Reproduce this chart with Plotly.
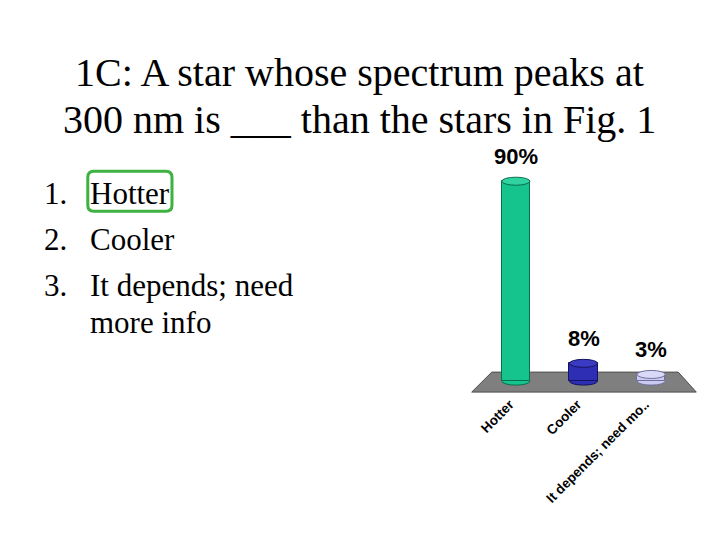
import plotly.graph_objects as go

# ---- data ----
categories = ["Hotter", "Cooler", "It depends; need mo.."]
values = [90, 8, 3]
bar_colors = ["#14C48C", "#2E2EB4", "#C9C9F2"]
edge_colors = ["#0B6E4E", "#14145E", "#6F6F9A"]
cap_colors = ["#2FD39F", "#3A3AC4", "#DADAF8"]
title_lines = ["1C: A star whose spectrum peaks at",
               "300 nm is ___ than the stars in Fig. 1"]
list_numbers = ["1.", "2.", "3.", ""]
list_texts = ["Hotter", "Cooler", "It depends; need", "more info"]

W, H = 720, 540
L, R, T, B = 482.25, 684.75, 158.8, 389.9
Y0, Y1 = -4, 100


def px(x):
    return (x - L) / (R - L)


def py(y):
    return (B - y) / (B - T)


fig = go.Figure()
fig.add_trace(go.Bar(
    x=list(range(len(categories))), y=values, width=0.415,
    marker=dict(color=bar_colors, line=dict(color=edge_colors, width=1)),
    hoverinfo="skip", showlegend=False,
))

shapes = []
# floor (perspective parallelogram)
fx = [492, 678, 696, 472]
fy = [372, 372, 392, 392]
path = "M {} {} L {} {} L {} {} L {} {} Z".format(
    px(fx[0]), py(fy[0]), px(fx[1]), py(fy[1]), px(fx[2]), py(fy[2]), px(fx[3]), py(fy[3]))
shapes.append(dict(type="path", path=path, xref="paper", yref="paper",
                   fillcolor="#7F7F7F", line=dict(color="#505050", width=1), layer="below"))
hw = 0.415 / 2
eh = 1.8
for i, v in enumerate(values):
    # bottom ellipse of the cylinder
    shapes.append(dict(type="circle", xref="x", yref="y", x0=i - hw, x1=i + hw, y0=-eh, y1=eh,
                       fillcolor=bar_colors[i], line=dict(color=edge_colors[i], width=1), layer="below"))
    # top ellipse
    shapes.append(dict(type="circle", xref="x", yref="y", x0=i - hw, x1=i + hw, y0=v - eh, y1=v + eh,
                       fillcolor=cap_colors[i], line=dict(color=edge_colors[i], width=1), layer="above"))

# green highlight round box around the correct answer
bx0, bx1, by0, by1, rr = 89, 173, 171, 211, 6
rpath = ("M {a} {b} L {c} {b} Q {x1} {b} {x1} {d} L {x1} {e} Q {x1} {y1} {c} {y1} "
         "L {a} {y1} Q {x0} {y1} {x0} {e} L {x0} {d} Q {x0} {b} {a} {b} Z").format(
    a=px(bx0 + rr), b=py(by0), c=px(bx1 - rr), x1=px(bx1), d=py(by0 + rr), e=py(by1 - rr),
    y1=py(by1), x0=px(bx0))
shapes.append(dict(type="path", path=rpath, xref="paper", yref="paper",
                   line=dict(color="#3DB240", width=3), layer="above"))

annotations = []
serif = "Liberation Serif, Times New Roman, serif"
tfs = 40
for k, line in enumerate(title_lines):
    base = [85, 132][k]
    annotations.append(dict(text=line, xref="paper", yref="paper", x=px(360),
                            y=py(base - 0.891 * tfs - 1), xanchor="center", yanchor="top",
                            showarrow=False, borderpad=0, font=dict(family=serif, size=tfs, color="black")))
lfs = 31
bases = [203, 249, 295, 332]
for num, txt, base in zip(list_numbers, list_texts, bases):
    ytop = py(base - 0.891 * lfs - 1)
    if num:
        annotations.append(dict(text=num, xref="paper", yref="paper", x=px(44), y=ytop,
                                xanchor="left", yanchor="top", showarrow=False, borderpad=0,
                                font=dict(family=serif, size=lfs, color="black")))
    annotations.append(dict(text=txt, xref="paper", yref="paper", x=px(90), y=ytop,
                            xanchor="left", yanchor="top", showarrow=False, borderpad=0,
                            font=dict(family=serif, size=lfs, color="black")))
for i, v in enumerate(values):
    annotations.append(dict(text=f"{v}%", x=i, y=v, xref="x", yref="y", yanchor="bottom",
                            yshift=10, showarrow=False,
                            font=dict(family="Liberation Sans, Arial, sans-serif", size=22,
                                      color="black", weight="bold")))

fig.update_layout(
    width=W, height=H,
    margin=dict(l=L, r=W - R, t=T, b=H - B, pad=0),
    paper_bgcolor="white", plot_bgcolor="rgba(0,0,0,0)",
    shapes=shapes, annotations=annotations,
    xaxis=dict(range=[-0.5, 2.5], tickmode="array", tickvals=list(range(len(categories))),
               ticktext=categories, tickangle=-45, showgrid=False, zeroline=False, showline=False,
               ticks="", ticklabelstandoff=3, ticklabelshift=-6,
               tickfont=dict(family="Liberation Sans, Arial, sans-serif", size=13.5, color="black",
                             weight="bold")),
    yaxis=dict(range=[Y0, Y1], visible=False),
    bargap=0, showlegend=False,
)
fig.write_html("out.html", config={"displayModeBar": False},
               post_script="document.body.style.margin='0';")
